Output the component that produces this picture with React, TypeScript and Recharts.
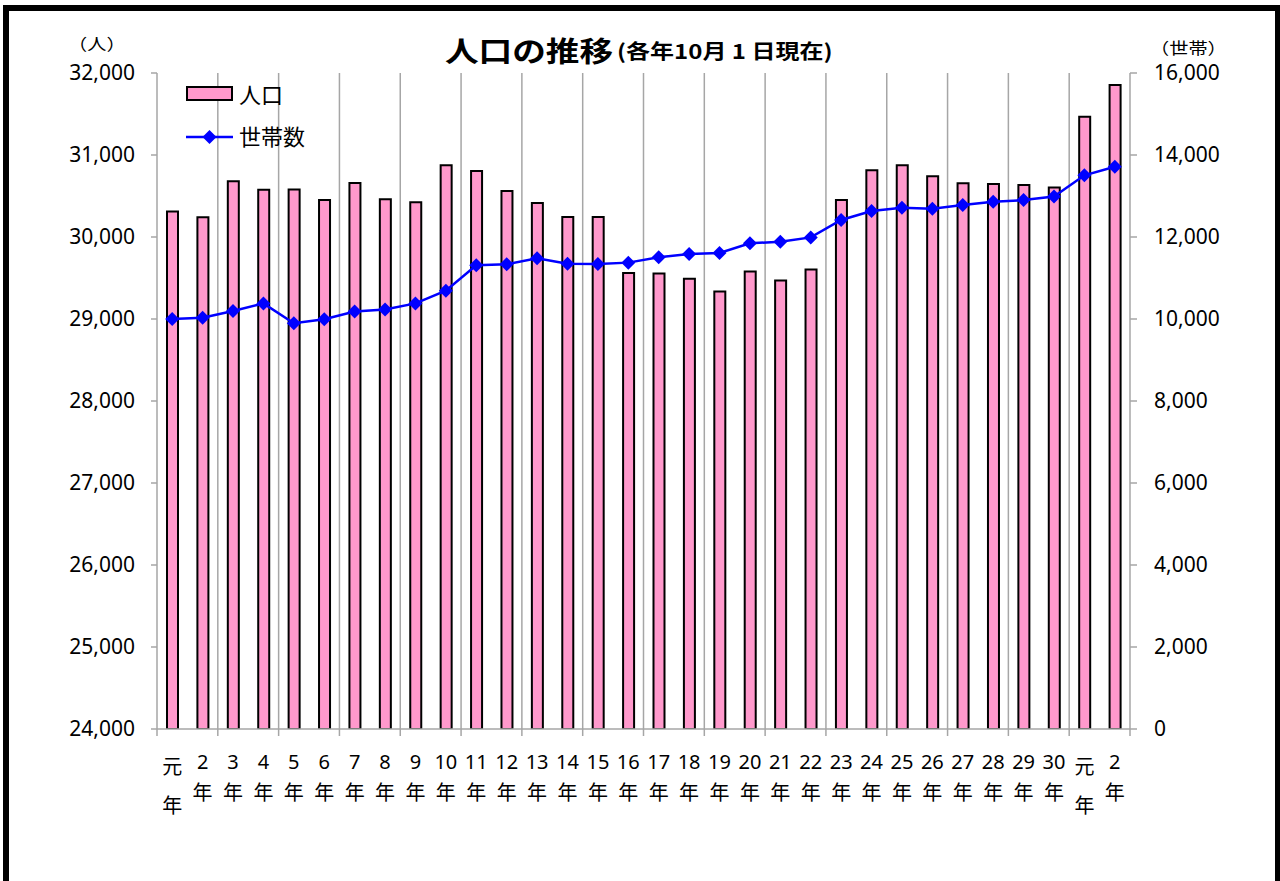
import React from 'react';
import { ComposedChart, Bar, Line, XAxis, YAxis, ReferenceLine, Legend } from 'recharts';

const keys = ['H1','H2','H3','H4','H5','H6','H7','H8','H9','H10','H11','H12','H13','H14','H15','H16','H17','H18','H19','H20','H21','H22','H23','H24','H25','H26','H27','H28','H29','H30','R1','R2'];
const yearLabels = ['元年','2年','3年','4年','5年','6年','7年','8年','9年','10年','11年','12年','13年','14年','15年','16年','17年','18年','19年','20年','21年','22年','23年','24年','25年','26年','27年','28年','29年','30年','元年','2年'];
const population = [30310, 30240, 30680, 30575, 30580, 30450, 30660, 30460, 30425, 30875, 30805, 30560, 30415, 30245, 30245, 29560, 29555, 29490, 29335, 29580, 29470, 29605, 30450, 30815, 30875, 30740, 30655, 30645, 30635, 30605, 31465, 31855];
const households = [10000, 10030, 10195, 10380, 9895, 9995, 10185, 10230, 10380, 10690, 11310, 11335, 11480, 11350, 11340, 11375, 11505, 11585, 11610, 11845, 11885, 11990, 12415, 12635, 12715, 12690, 12780, 12860, 12900, 12985, 13505, 13715];
const leftTicks = [24000, 25000, 26000, 27000, 28000, 29000, 30000, 31000, 32000];
const rightTicks = [0, 2000, 4000, 6000, 8000, 10000, 12000, 14000, 16000];
const gridKeys = keys.filter((_, i) => i > 0 && i % 2 === 0);

const data = keys.map((k, i) => ({ key: k, pop: population[i], hh: households[i] }));

const F = "'Noto Sans', 'Noto Sans CJK JP', sans-serif";
const JP = "'Noto Sans CJK JP', 'Noto Sans', sans-serif";
const GRAY = '#a6a6a6';

const fmt = (v: number) => v.toLocaleString('en-US');

function XTick(props: any) {
  const { x, y, payload } = props;
  const i = payload.index;
  const off = payload.offset ?? 0;
  const label: string = yearLabels[i];
  const isGan = label.startsWith('元');
  const head = label.slice(0, label.length - 1);
  return (
    <g>
      {i % 2 === 0 && (
        <line x1={x - off} x2={x - off} y1={y} y2={y + 7} stroke={GRAY} strokeWidth={1.5} />
      )}
      {i === keys.length - 1 && (
        <line x1={x + off} x2={x + off} y1={y} y2={y + 7} stroke={GRAY} strokeWidth={1.5} />
      )}
      <text x={x} y={y + (isGan ? 45 : 40)} textAnchor="middle" fill="#000" fontSize={20} fontFamily={isGan ? JP : F}>
        {head}
      </text>
      <text x={x} y={y + (isGan ? 84 : 71)} textAnchor="middle" fill="#000" fontSize={20} fontFamily={JP}>
        年
      </text>
    </g>
  );
}

function Diamond(props: any) {
  const { cx, cy } = props;
  if (cx == null || cy == null) return null;
  const r = 7;
  return <polygon points={`${cx},${cy - r} ${cx + r},${cy} ${cx},${cy + r} ${cx - r},${cy}`} fill="#0000FF" stroke="none" />;
}

function LegendBox() {
  return (
    <div style={{ position: 'relative', width: 150, height: 80, fontFamily: JP }}>
      <div style={{ position: 'absolute', left: 0, top: 6, width: 47, height: 15, boxSizing: 'border-box', background: '#FF99CC', border: '2px solid #000' }} />
      <div style={{ position: 'absolute', left: 53, top: -1, fontSize: 22, lineHeight: '28px', color: '#000' }}>人口</div>
      <svg style={{ position: 'absolute', left: 0, top: 48 }} width={47} height={18}>
        <line x1={0} x2={47} y1={9} y2={9} stroke="#0000FF" strokeWidth={2.5} />
        <polygon points="23.5,2 30.5,9 23.5,16 16.5,9" fill="#0000FF" />
      </svg>
      <div style={{ position: 'absolute', left: 53, top: 41, fontSize: 22, lineHeight: '28px', color: '#000' }}>世帯数</div>
    </div>
  );
}

const stretched = (extra: React.CSSProperties): React.CSSProperties => ({
  position: 'absolute',
  fontFamily: JP,
  color: '#000',
  whiteSpace: 'nowrap',
  transform: 'scaleX(1.2)',
  transformOrigin: 'left center',
  ...extra,
});

export default function App() {
  return (
    <div style={{ position: 'absolute', left: 0, top: 0, width: 1280, height: 881, overflow: 'hidden', background: '#fff' }}>
      <div style={{ position: 'absolute', left: 3, top: 5, width: 1278, height: 882, boxSizing: 'border-box', border: '6px solid #000' }} />
      <div style={{ position: 'absolute', left: 0, top: 0 }}>
        <ComposedChart width={1280} height={881} data={data} margin={{ top: 73, right: 50, bottom: 52, left: 57 }}>
          {gridKeys.map((k) => (
            <ReferenceLine key={k} x={k} yAxisId="left" position="start" stroke={GRAY} strokeWidth={1.5} ifOverflow="visible" />
          ))}
          <XAxis
            dataKey="key"
            height={100}
            interval={0}
            tickLine={false}
            tickSize={0}
            tickMargin={0}
            axisLine={{ stroke: GRAY, strokeWidth: 1.5 }}
            tick={<XTick />}
          />
          <YAxis
            yAxisId="left"
            width={100}
            domain={[24000, 32000]}
            ticks={leftTicks}
            allowDataOverflow
            tickFormatter={fmt}
            tickSize={6}
            tickMargin={16}
            axisLine={{ stroke: GRAY, strokeWidth: 1.5 }}
            tickLine={{ stroke: GRAY, strokeWidth: 1.5 }}
            tick={{ fill: '#000', fontSize: 21, fontFamily: F }}
          />
          <YAxis
            yAxisId="right"
            orientation="right"
            width={100}
            domain={[0, 16000]}
            ticks={rightTicks}
            allowDataOverflow
            tickFormatter={fmt}
            tickSize={7}
            tickMargin={17}
            axisLine={{ stroke: GRAY, strokeWidth: 1.5 }}
            tickLine={{ stroke: GRAY, strokeWidth: 1.5 }}
            tick={{ fill: '#000', fontSize: 21, fontFamily: F, textAnchor: 'start' }}
          />
          <Legend
            layout="vertical"
            align="center"
            verticalAlign="middle"
            content={() => <LegendBox />}
            wrapperStyle={{ left: 186, top: 80, width: 150, height: 80 }}
          />
          <Bar dataKey="pop" name="人口" yAxisId="left" fill="#FF99CC" stroke="#000" strokeWidth={2} barSize={11} isAnimationActive={false} />
          <Line dataKey="hh" name="世帯数" yAxisId="right" stroke="#0000FF" strokeWidth={2.5} dot={<Diamond />} activeDot={false} isAnimationActive={false} />
        </ComposedChart>
      </div>
      <div style={stretched({ left: 445, top: 36, fontSize: 28, lineHeight: '28px', fontWeight: 700 })}>人口の推移</div>
      <div style={stretched({ left: 617, top: 41, fontSize: 20, lineHeight: '20px', fontWeight: 700 })}>(各年10月 1 日現在)</div>
      <div style={stretched({ left: 68, top: 35, fontSize: 16, lineHeight: '16px' })}>（人）</div>
      <div style={stretched({ left: 1150, top: 39, fontSize: 16, lineHeight: '16px' })}>（世帯）</div>
    </div>
  );
}
